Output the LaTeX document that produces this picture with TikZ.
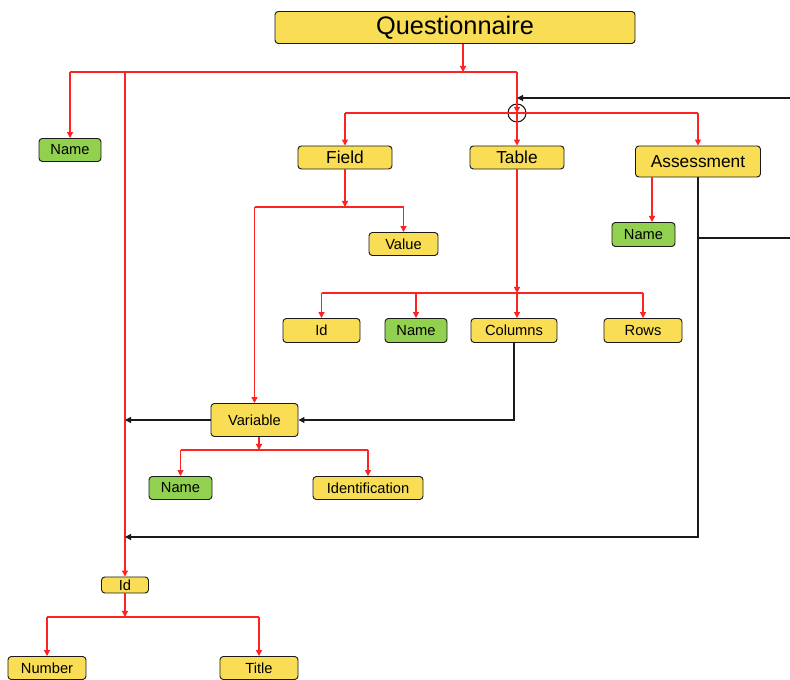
\documentclass[tikz,border=0pt]{standalone}
\usepackage{fontspec}
\setmainfont{Liberation Sans}
\usepackage{xcolor}
\usepackage{tikz}
\usetikzlibrary{arrows.meta,positioning,calc}
\definecolor{qnrYellow}{HTML}{F8DD55}
\definecolor{qnrGreen}{HTML}{92D050}
\definecolor{qnrRed}{HTML}{FF2222}
\definecolor{qnrInk}{HTML}{1A1A1A}
\tikzset{
  itemBox/.style={
    rectangle,
    rounded corners=2.5pt,
    draw=qnrInk,
    fill=qnrYellow,
    line width=0.7pt,
    inner sep=0pt,
    minimum height=17.25pt,
    align=center,
    font=\fontsize{11}{13}\selectfont
  },
  nameBox/.style={
    itemBox,
    fill=qnrGreen
  },
  groupBox/.style={
    itemBox,
    minimum height=17.25pt,
    font=\fontsize{13}{15}\selectfont
  },
  redLine/.style={
    line width=0.9pt,
    draw=qnrRed
  },
  redArrow/.style={
    redLine,
    -{Triangle[length=4.5pt,width=4.5pt]}
  },
  blackLine/.style={
    line width=0.9pt,
    draw=qnrInk
  },
  blackArrow/.style={
    blackLine,
    -{Triangle[length=4.5pt,width=4.5pt]}
  }
}

\begin{document}
\begin{tikzpicture}[x=0.75pt,y=-0.75pt]
  \useasboundingbox (0,0) rectangle (790,680);
  % boxes
  \node[itemBox,minimum width=270pt,minimum height=24pt,font=\fontsize{19}{21}\selectfont] (quest) at (455,27.5) {Questionnaire};
  \node[nameBox,minimum width=46.5pt] (qName) at (70,150) {Name};
  \node[groupBox,minimum width=70.5pt] (field) at (345,157.5) {Field};
  \node[groupBox,minimum width=70.5pt] (table) at (517,157.5) {Table};
  \node[groupBox,minimum width=93.75pt,minimum height=23.25pt] (assess) at (698,161.5) {Assessment};
  \node[nameBox,minimum width=47.25pt,minimum height=18pt] (aName) at (643.5,234.5) {Name};
  \node[itemBox,minimum width=51.75pt] (value) at (403.5,244) {Value};
  \node[itemBox,minimum width=57.75pt,minimum height=18pt] (tId) at (321.5,330.5) {Id};
  \node[nameBox,minimum width=46.5pt,minimum height=18pt] (tName) at (416,330.5) {Name};
  \node[itemBox,minimum width=64.5pt,minimum height=18pt] (columns) at (514,330.5) {Columns};
  \node[itemBox,minimum width=58.5pt,minimum height=18pt] (rows) at (643,330.5) {Rows};
  \node[itemBox,minimum width=65.25pt,minimum height=24.75pt] (variable) at (254.5,420) {Variable};
  \node[nameBox,minimum width=47.25pt] (vName) at (180.5,488) {Name};
  \node[itemBox,minimum width=82.5pt] (ident) at (368,488) {Identification};
  \node[itemBox,minimum width=35.25pt,minimum height=12pt] (idQ) at (125,585) {Id};
  \node[itemBox,minimum width=58.5pt] (number) at (47,668) {Number};
  \node[itemBox,minimum width=58.5pt] (title) at (259,668) {Title};
  \node[circle,draw=qnrInk,line width=0.8pt,minimum size=13.5pt,inner sep=0pt] (merge) at (517,113) {};
  % junctions
  \coordinate (qBar) at (463,72);
  \coordinate (fieldBar) at (345,207);
  \coordinate (tableBar) at (517,293);
  \coordinate (varBar) at (259,450);
  \coordinate (idBar) at (125,617);
  \coordinate (aNameTip) at (652,222);
  \coordinate (loopIn) at (790,98);
  \coordinate (loopOut) at (790,238);
  \coordinate (assessTurn) at (698,537);
  % questionnaire
  \draw[redArrow] (quest.south -| qBar) -- (qBar);
  \draw[redLine] (qName.north |- qBar) -- (merge |- qBar);
  \draw[redArrow] (qName.north |- qBar) -- (qName.north);
  \draw[redArrow] (idQ.north |- qBar) -- (idQ.north);
  \draw[redArrow] (merge |- qBar) -- (merge.center);
  \draw[redLine] (field.north |- merge) -- (assess.north |- merge);
  \draw[redArrow] (field.north |- merge) -- (field.north);
  \draw[redArrow] (merge.center) -- (table.north);
  \draw[redArrow] (assess.north |- merge) -- (assess.north);
  % field
  \draw[redArrow] (field.south) -- (fieldBar);
  \draw[redLine] (variable.north |- fieldBar) -- (value.north |- fieldBar);
  \draw[redArrow] (value.north |- fieldBar) -- (value.north);
  \draw[redArrow] (variable.north |- fieldBar) -- (variable.north);
  % table
  \draw[redArrow] (table.south) -- (tableBar);
  \draw[redLine] (tId.north |- tableBar) -- (rows.north |- tableBar);
  \draw[redArrow] (tId.north |- tableBar) -- (tId.north);
  \draw[redArrow] (tName.north |- tableBar) -- (tName.north);
  \draw[redArrow] (tableBar) -- (tableBar |- columns.north);
  \draw[redArrow] (rows.north |- tableBar) -- (rows.north);
  % assessment
  \draw[redArrow] (aNameTip |- assess.south) -- (aNameTip);
  \draw[blackArrow] (assess.south) |- (idQ.north |- assessTurn);
  \draw[blackLine] (assess.south |- loopOut) -- (loopOut);
  \draw[blackArrow] (loopIn) -- (merge |- loopIn);
  % variable
  \draw[blackArrow] (columns.south) |- (variable.east);
  \draw[blackArrow] (variable.west) -- (idQ.north |- variable.west);
  \draw[redArrow] (varBar |- variable.south) -- (varBar);
  \draw[redLine] (vName.north |- varBar) -- (ident.north |- varBar);
  \draw[redArrow] (vName.north |- varBar) -- (vName.north);
  \draw[redArrow] (ident.north |- varBar) -- (ident.north);
  % id
  \draw[redArrow] (idQ.south) -- (idBar);
  \draw[redLine] (number.north |- idBar) -- (title.north |- idBar);
  \draw[redArrow] (number.north |- idBar) -- (number.north);
  \draw[redArrow] (title.north |- idBar) -- (title.north);
\end{tikzpicture}
\end{document}
